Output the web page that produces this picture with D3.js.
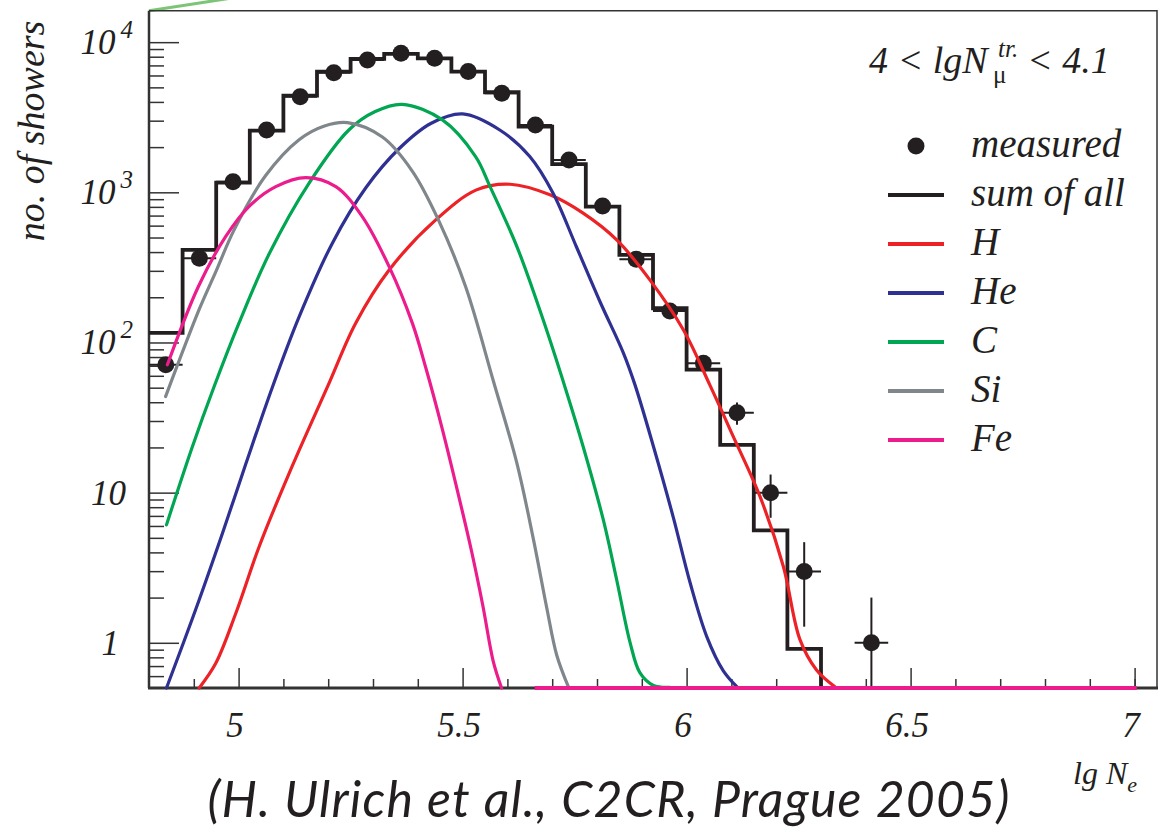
<!DOCTYPE html>
<html><head><meta charset="utf-8">
<script src="https://cdn.jsdelivr.net/npm/d3@7"></script>
<style>body{margin:0;background:#fff}svg{display:block}</style>
</head><body><svg id="c" width="1162" height="832"></svg>
<script>
// ---------- data ----------
const binEdges = [4.8,4.875,4.95,5.025,5.1,5.175,5.25,5.325,5.4,5.475,5.55,5.625,5.7,5.775,5.85,5.925,6.0,6.075,6.15,6.225,6.3];
const sumCounts = [116,414,1161,2575,4403,6368,7730,8350,7810,6368,4638,2737,1540,803,383,169,66,20.8,5.6,0.91];

const measLgNe = [4.8375,4.9125,4.9875,5.0625,5.1375,5.2125,5.2875,5.3625,5.4375,5.5125,5.5875,5.6625,5.7375,5.8125,5.8875,5.9625,6.0375,6.1125,6.1875,6.2625,6.4125];
const measCounts = [71,364,1178,2603,4337,6265,7610,8440,7810,6368,4568,2810,1643,812,359,162,72.8,34.1,10.0,2.98,1.0];
const measErr = [8.4,19,34,51,66,79,87,92,88,80,68,53,41,28.5,19,12.7,8.5,5.8,3.2,1.7,1.0];
const measXErr = 0.0375;

const hLgNe = [4.912,4.949,4.994,5.046,5.113,5.200,5.261,5.336,5.440,5.531,5.606,5.695,5.769,5.844,5.918,5.993,6.052,6.104,6.164,6.216,6.253,6.290,6.331];
const hCounts = [0.5,0.73,1.58,4.38,13.5,52,134,304,655,1038,1132,962,726,482,261,121,52,23.7,9.4,3.22,1.05,0.66,0.51];

const heLgNe = [4.839,4.904,4.964,5.016,5.075,5.135,5.209,5.284,5.358,5.430,5.500,5.583,5.650,5.702,5.754,5.807,5.859,5.885,5.926,5.970,6.008,6.045,6.082,6.112];
const heCounts = [0.5,1.66,5.37,15.5,50,148,457,1072,1950,2884,3327,2600,1730,986,434,186,85,52,20.3,6.9,2.5,1.1,0.65,0.51];

const cLgNe = [4.839,4.897,4.945,5.001,5.068,5.157,5.246,5.305,5.365,5.455,5.529,5.561,5.621,5.680,5.729,5.769,5.814,5.844,5.874,5.896,5.926,5.963];
const cCounts = [6.1,20.3,50.5,135,388,1148,2600,3450,3855,3034,1730,1096,437,141,50,20.3,6.6,2.62,1.0,0.63,0.52,0.505];

const siLgNe = [4.837,4.912,4.949,4.990,5.060,5.135,5.190,5.243,5.321,5.388,5.447,5.507,5.569,5.621,5.658,5.688,5.710,5.736];
const siCounts = [43.6,166,295,562,1288,2239,2754,2911,2333,1380,646,234,55,15.8,4.9,1.7,0.83,0.51];

const feLgNe = [4.841,4.910,4.971,5.023,5.083,5.150,5.217,5.276,5.336,5.388,5.418,5.455,5.499,5.520,5.545,5.569,5.587];
const feCounts = [71,235,507,804,1091,1253,1091,689,320,134,67.6,26.3,7.6,4.07,1.78,0.74,0.5];
const feZeroLine = [5.661,7.005];

const seriesNames = ["H","He","C","Si","Fe"];
const seriesColors = ["#ec2227","#2e3192","#00a651","#7f878c","#ec1c8c"];

const xMajorTicks = [5,5.5,6,6.5,7];
const xTickLabels = ["5","5.5","6","6.5","7"];
const xMinorTicks = [4.9,5.1,5.2,5.3,5.4,5.6,5.7,5.8,5.9,6.1,6.2,6.3,6.4,6.6,6.7,6.8,6.9,7.0];
const yMajorTicks = [1,10,100,1000,10000];
const yTickBase = ["1","10","10","10","10"];
const yTickExp = ["","","2","3","4"];
const yMinorTicks = [0.6,0.7,0.8,0.9,2,3,4,5,6,7,8,9,20,30,40,50,60,70,80,90,200,300,400,500,600,700,800,900,2000,3000,4000,5000,6000,7000,8000,9000];

const legendLabels = ["measured","sum of all","H","He","C","Si","Fe"];

// ---------- setup ----------
const svg = d3.select("#c");
const L=149, R=1157, T=10.7, B=688;
const x = d3.scaleLinear().domain([4.8,7.05]).range([L,R]);
const y = d3.scaleLog().domain([0.5,16200]).range([B,T]);
const ink = "#231f20";
const serif = "'Liberation Serif','Times New Roman',serif";

svg.append("rect").attr("width",1162).attr("height",832).attr("fill","#fff");

// decorative green line top-left
svg.append("line").attr("x1",L).attr("y1",T).attr("x2",232).attr("y2",-2)
  .attr("stroke","#7cc576").attr("stroke-width",3);

// frame
svg.append("path").attr("d",`M${L},${T}H${R}V${B}`).attr("fill","none").attr("stroke","#333").attr("stroke-width",1.5);

svg.append("defs").append("clipPath").attr("id","clip").append("rect")
  .attr("x",L).attr("y",T).attr("width",R-L).attr("height",B-T+3);

// axes ticks
function styleAxis(g){ g.select(".domain").remove(); g.selectAll(".tick line").attr("stroke","#333").attr("stroke-width",1.5); }
svg.append("g").attr("transform",`translate(${L},0)`)
  .call(d3.axisRight(y).tickValues(yMinorTicks).tickSize(15).tickFormat("")).call(styleAxis);
svg.append("g").attr("transform",`translate(${L},0)`)
  .call(d3.axisRight(y).tickValues(yMajorTicks).tickSize(30).tickFormat("")).call(styleAxis);
svg.append("g").attr("transform",`translate(0,${B})`)
  .call(d3.axisTop(x).tickValues(xMinorTicks).tickSize(9).tickFormat("")).call(styleAxis);
svg.append("g").attr("transform",`translate(0,${B})`)
  .call(d3.axisTop(x).tickValues(xMajorTicks).tickSize(20).tickFormat("")).call(styleAxis);

// x tick labels
const xl = svg.append("g").attr("transform",`translate(0,${B})`)
  .call(d3.axisBottom(x).tickValues(xMajorTicks).tickSize(0).tickPadding(24).tickFormat((d,i)=>xTickLabels[i]));
xl.select(".domain").remove();
xl.selectAll("text").attr("font-family",serif).attr("font-style","italic").attr("font-size",35).attr("fill",ink).attr("dx",-4);

// y tick labels
yMajorTicks.forEach((v,i)=>{
  const t = svg.append("text").attr("y",y(v)+12).attr("font-family",serif).attr("font-style","italic")
    .attr("font-size",35).attr("fill",ink).attr("text-anchor","end");
  if (yTickExp[i]) {
    t.attr("x",133);
    t.append("tspan").text(yTickBase[i]);
    t.append("tspan").attr("font-size",25).attr("dx",5).attr("dy",-16).text(yTickExp[i]);
  } else {
    t.attr("x", yTickBase[i].length>1 ? 126 : 119).text(yTickBase[i]);
  }
});

// axis lines
svg.append("line").attr("x1",L).attr("x2",L).attr("y1",T).attr("y2",B).attr("stroke","#333").attr("stroke-width",2.5);
svg.append("line").attr("x1",L-1).attr("x2",R+1).attr("y1",B).attr("y2",B).attr("stroke","#333").attr("stroke-width",3);

const plot = svg.append("g").attr("clip-path","url(#clip)");

// histogram (sum of all)
const histPts = sumCounts.map((c,i)=>[binEdges[i],c]);
histPts.push([binEdges[binEdges.length-1], sumCounts[sumCounts.length-1]]);
histPts.push([binEdges[binEdges.length-1], y.domain()[0]]);
plot.append("path").datum(histPts)
  .attr("d", d3.line().x(d=>x(d[0])).y(d=>y(Math.max(d[1],y.domain()[0]))).curve(d3.curveStepAfter))
  .attr("fill","none").attr("stroke",ink).attr("stroke-width",3.8).attr("stroke-linejoin","miter");

// measured points
const meas = measLgNe.map((v,i)=>({v, c:measCounts[i], e:measErr[i]}));
const mg = plot.append("g");
mg.selectAll(".ex").data(meas).join("line")
  .attr("x1",d=>x(d.v-measXErr)).attr("x2",d=>x(d.v+measXErr))
  .attr("y1",d=>y(d.c)).attr("y2",d=>y(d.c)).attr("stroke",ink).attr("stroke-width",2);
mg.selectAll(".ey").data(meas).join("line")
  .attr("x1",d=>x(d.v)).attr("x2",d=>x(d.v))
  .attr("y1",d=>y(d.c+d.e)).attr("y2",d=>y(Math.max(d.c-d.e, y.domain()[0])))
  .attr("stroke",ink).attr("stroke-width",2);
mg.selectAll("circle").data(meas).join("circle")
  .attr("cx",d=>x(d.v)).attr("cy",d=>y(d.c)).attr("r",8.5).attr("fill",ink);

// component curves
const comps = [[hLgNe,hCounts],[heLgNe,heCounts],[cLgNe,cCounts],[siLgNe,siCounts],[feLgNe,feCounts]];
const curveLine = d3.line().x(d=>x(d[0])).y(d=>y(d[1])).curve(d3.curveCatmullRom.alpha(0.5));
comps.forEach((s,k)=>{
  const pts = s[0].map((v,i)=>[v,s[1][i]]);
  plot.append("path").datum(pts).attr("d",curveLine)
    .attr("fill","none").attr("stroke",seriesColors[k]).attr("stroke-width",3.2).attr("stroke-linecap","round");
});
// Fe zero level along the bottom
svg.append("line").attr("x1",x(feZeroLine[0])).attr("x2",x(feZeroLine[1]))
  .attr("y1",y(y.domain()[0])).attr("y2",y(y.domain()[0]))
  .attr("stroke",seriesColors[4]).attr("stroke-width",4);

// annotation
const ann = svg.append("text").attr("font-family",serif).attr("font-style","italic").attr("font-size",38).attr("fill",ink).attr("y",73);
ann.append("tspan").attr("x",869).text("4 < lgN");
ann.append("tspan").attr("x",993).attr("y",83).attr("font-size",25).attr("font-style","normal").text("μ");
ann.append("tspan").attr("x",998).attr("y",57).attr("font-size",25).text("tr.");
ann.append("tspan").attr("x",1027).attr("y",73).text("< 4.1");

// legend
const legY0 = 146, legStep = 49;
const lg = svg.append("g");
legendLabels.forEach((lab,i)=>{
  const yy = legY0 + i*legStep;
  if (i===0) lg.append("circle").attr("cx",916).attr("cy",yy).attr("r",8.5).attr("fill",ink);
  else lg.append("line").attr("x1",888).attr("x2",944).attr("y1",yy).attr("y2",yy)
        .attr("stroke", i===1 ? ink : seriesColors[i-2]).attr("stroke-width",4);
  lg.append("text").attr("x",971).attr("y",yy+11).attr("font-family",serif).attr("font-style","italic")
    .attr("font-size",39).attr("fill",ink).text(lab);
});

// axis titles
svg.append("text").attr("transform","translate(44,131) rotate(-90)").attr("text-anchor","middle")
  .attr("font-family",serif).attr("font-style","italic").attr("font-size",38).attr("fill",ink).text("no. of showers");
const xt = svg.append("text").attr("x",1073).attr("y",784).attr("font-family",serif).attr("font-style","italic")
  .attr("font-size",32).attr("fill",ink);
xt.append("tspan").text("lg N");
xt.append("tspan").attr("font-size",22).attr("dy",8).text("e");

// caption
svg.append("text").attr("x",609).attr("y",817).attr("text-anchor","middle")
  .attr("font-family","Lato, 'Open Sans', sans-serif").attr("font-style","italic").attr("font-size",50)
  .attr("letter-spacing",1.2).attr("fill",ink).text("(H. Ulrich et al., C2CR, Prague 2005)");
</script></body></html>
